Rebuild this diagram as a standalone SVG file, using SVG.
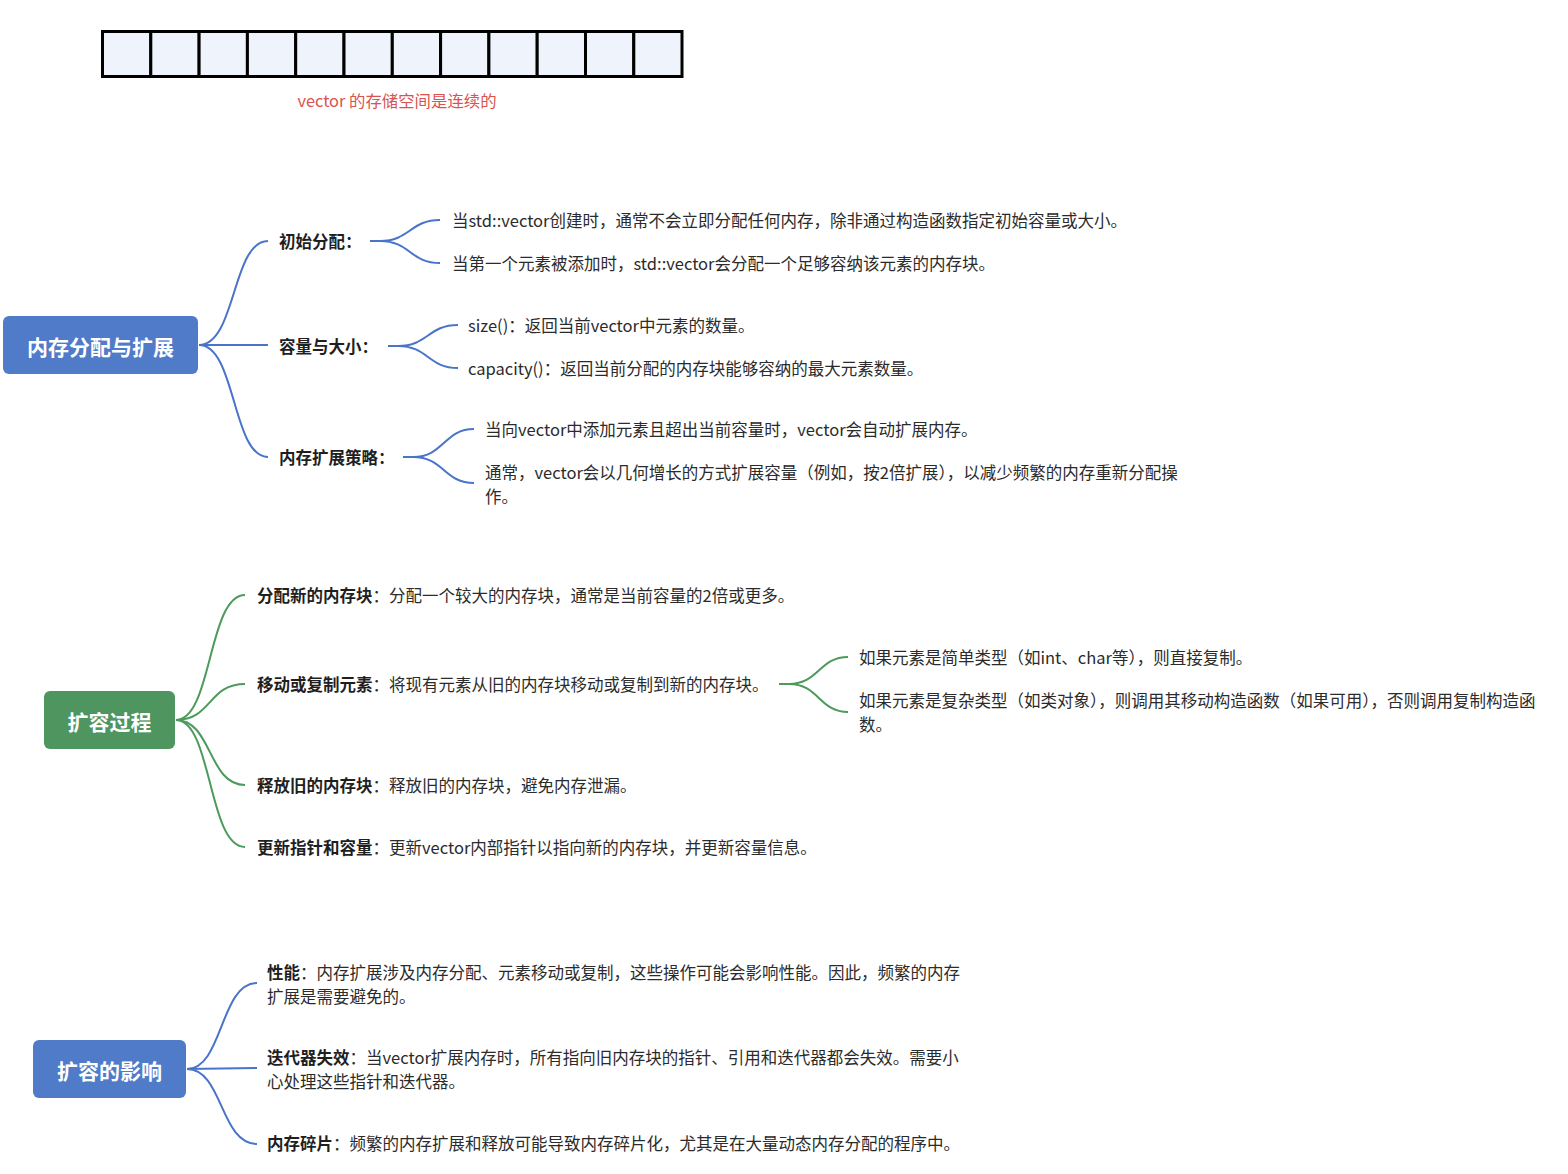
<svg xmlns="http://www.w3.org/2000/svg" width="1568" height="1174" viewBox="0 0 1568 1174">
<style>
text{font-family:"Noto Sans CJK SC","Noto Sans",sans-serif;}
.t{font-size:16.5px;fill:#2b2b2b;dominant-baseline:central;}
.b{font-weight:bold;fill:#1f1f1f;}
.root{font-size:21px;font-weight:bold;fill:#ffffff;text-anchor:middle;dominant-baseline:central;}
.cap{font-size:16.4px;fill:#d9534f;text-anchor:middle;}
.cell{fill:#eef3fc;stroke:#000;stroke-width:3;}
.bl{fill:none;stroke:#4a74c9;stroke-width:2;}
.gr{fill:none;stroke:#4c9a5c;stroke-width:2;}
</style>
<rect width="1568" height="1174" fill="#ffffff"/>
<g id="array">
<rect class="cell" x="102.5" y="31.5" width="48.3" height="45"/>
<rect class="cell" x="150.8" y="31.5" width="48.3" height="45"/>
<rect class="cell" x="199.1" y="31.5" width="48.3" height="45"/>
<rect class="cell" x="247.4" y="31.5" width="48.3" height="45"/>
<rect class="cell" x="295.7" y="31.5" width="48.3" height="45"/>
<rect class="cell" x="344" y="31.5" width="48.3" height="45"/>
<rect class="cell" x="392.3" y="31.5" width="48.3" height="45"/>
<rect class="cell" x="440.6" y="31.5" width="48.3" height="45"/>
<rect class="cell" x="488.9" y="31.5" width="48.3" height="45"/>
<rect class="cell" x="537.2" y="31.5" width="48.3" height="45"/>
<rect class="cell" x="585.5" y="31.5" width="48.3" height="45"/>
<rect class="cell" x="633.8" y="31.5" width="48.2" height="45"/>
<text class="cap" x="397" y="107">vector 的存储空间是连续的</text>
</g>
<g id="connectors">
<path class="bl" d="M199,345 C236,345 232,241 268,241"/>
<path class="bl" d="M199,345 L268,345"/>
<path class="bl" d="M199,345 C236,345 232,457 268,457"/>
<path class="bl" d="M370,241 L380,241 C410,241 410,220 440,220"/>
<path class="bl" d="M370,241 L380,241 C410,241 410,263 440,263"/>
<path class="bl" d="M388,346 L398,346 C428,346 428,325 458,325"/>
<path class="bl" d="M388,346 L398,346 C428,346 428,368 458,368"/>
<path class="bl" d="M403,457 L413,457 C444,457 444,429 474,429"/>
<path class="bl" d="M403,457 L413,457 C444,457 444,483 474,483"/>
<path class="gr" d="M176,720 C212,720 208,595 245,595"/>
<path class="gr" d="M176,720 C212,720 208,684 245,684"/>
<path class="gr" d="M176,720 C212,720 208,785 245,785"/>
<path class="gr" d="M176,720 C212,720 208,847 245,847"/>
<path class="gr" d="M779,684 L789,684 C819,684 819,657 848,657"/>
<path class="gr" d="M779,684 L789,684 C819,684 819,712 848,712"/>
<path class="bl" d="M187,1069 C223,1069 220,983 257,983"/>
<path class="bl" d="M187,1069 L257,1068"/>
<path class="bl" d="M187,1069 C223,1069 220,1144 257,1144"/>
</g>
<g id="root1">
<rect x="3" y="316" width="195" height="58" rx="6" fill="#4f7bc9"/>
<text class="root" x="100.5" y="346">内存分配与扩展</text>
</g>
<g id="n-init"><text class="t b" x="279" y="241">初始分配：</text></g>
<g id="n-init-1"><text class="t" x="452" y="220">当std::vector创建时，通常不会立即分配任何内存，除非通过构造函数指定初始容量或大小。</text></g>
<g id="n-init-2"><text class="t" x="452" y="263">当第一个元素被添加时，std::vector会分配一个足够容纳该元素的内存块。</text></g>
<g id="n-cap"><text class="t b" x="279" y="346">容量与大小：</text></g>
<g id="n-cap-1"><text class="t" x="468" y="325">size()：返回当前vector中元素的数量。</text></g>
<g id="n-cap-2"><text class="t" x="468" y="368">capacity()：返回当前分配的内存块能够容纳的最大元素数量。</text></g>
<g id="n-strat"><text class="t b" x="279" y="457">内存扩展策略：</text></g>
<g id="n-strat-1"><text class="t" x="485" y="429">当向vector中添加元素且超出当前容量时，vector会自动扩展内存。</text></g>
<g id="n-strat-2"><text class="t" x="485" y="472">通常，vector会以几何增长的方式扩展容量（例如，按2倍扩展），以减少频繁的内存重新分配操</text><text class="t" x="485" y="496">作。</text></g>
<g id="root2">
<rect x="44" y="691" width="131" height="58" rx="6" fill="#4f9560"/>
<text class="root" x="109.5" y="721">扩容过程</text>
</g>
<g id="n-alloc"><text class="t" x="257" y="595"><tspan class="b">分配新的内存块</tspan>：分配一个较大的内存块，通常是当前容量的2倍或更多。</text></g>
<g id="n-move"><text class="t" x="257" y="684"><tspan class="b">移动或复制元素</tspan>：将现有元素从旧的内存块移动或复制到新的内存块。</text></g>
<g id="n-move-1"><text class="t" x="859" y="657">如果元素是简单类型（如int、char等），则直接复制。</text></g>
<g id="n-move-2"><text class="t" x="859" y="700">如果元素是复杂类型（如类对象），则调用其移动构造函数（如果可用），否则调用复制构造函</text><text class="t" x="859" y="724">数。</text></g>
<g id="n-free"><text class="t" x="257" y="785"><tspan class="b">释放旧的内存块</tspan>：释放旧的内存块，避免内存泄漏。</text></g>
<g id="n-update"><text class="t" x="257" y="847"><tspan class="b">更新指针和容量</tspan>：更新vector内部指针以指向新的内存块，并更新容量信息。</text></g>
<g id="root3">
<rect x="33" y="1040" width="153" height="58" rx="6" fill="#4f7bc9"/>
<text class="root" x="109.5" y="1070">扩容的影响</text>
</g>
<g id="n-perf"><text class="t" x="267" y="972"><tspan class="b">性能</tspan>：内存扩展涉及内存分配、元素移动或复制，这些操作可能会影响性能。因此，频繁的内存</text><text class="t" x="267" y="996">扩展是需要避免的。</text></g>
<g id="n-iter"><text class="t" x="267" y="1057"><tspan class="b">迭代器失效</tspan>：当vector扩展内存时，所有指向旧内存块的指针、引用和迭代器都会失效。需要小</text><text class="t" x="267" y="1081">心处理这些指针和迭代器。</text></g>
<g id="n-frag"><text class="t" x="267" y="1143"><tspan class="b">内存碎片</tspan>：频繁的内存扩展和释放可能导致内存碎片化，尤其是在大量动态内存分配的程序中。</text></g>
</svg>
